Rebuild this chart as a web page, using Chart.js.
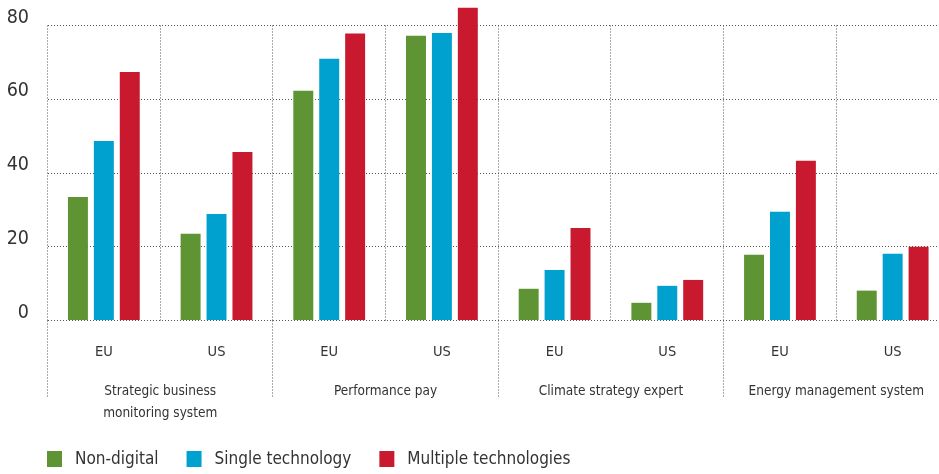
<!DOCTYPE html>
<html>
<head>
<meta charset="utf-8">
<title>Management practices by digital adoption</title>
<script src="https://cdn.jsdelivr.net/npm/chart.js@4.4.1/dist/chart.umd.min.js"></script>
<style>
  html, body { margin: 0; padding: 0; background: #fff; overflow: hidden; }
  #chart { display: block; }
</style>
</head>
<body>
<canvas id="chart" width="949" height="474"></canvas>
<script>
const regions = ['EU', 'US', 'EU', 'US', 'EU', 'US', 'EU', 'US'];
const practices = [
  ['Strategic business', 'monitoring system'],
  ['Performance pay'],
  ['Climate strategy expert'],
  ['Energy management system']
];
const seriesNames = ['Non-digital', 'Single technology', 'Multiple technologies'];
const nonDigital = [33.5, 23.5, 62.3, 77.2, 8.6, 4.8, 17.8, 8.1];
const singleTech = [48.7, 28.9, 71.0, 78.0, 13.7, 9.4, 29.5, 18.1];
const multipleTech = [67.4, 45.7, 77.8, 84.8, 25.1, 11.0, 43.3, 20.0];
const yTicks = [0, 20, 40, 60, 80];

const FONT = "'Liberation Sans Narrow', 'DejaVu Sans Condensed', 'Roboto Condensed', sans-serif";
const TEXT = '#333';
const GRID = '#555';
const colors = ['#5e9433', '#00a0cf', '#c8192e'];

// practice captions, the separators running down to them, and the legend row
const practiceLabels = {
  id: 'practiceLabels',
  afterDraw(chart) {
    const {ctx, chartArea, scales: {x}} = chart;
    const half = (x.getPixelForValue(1) - x.getPixelForValue(0)) / 2;
    ctx.save();
    ctx.strokeStyle = GRID;
    ctx.lineWidth = 1;
    ctx.setLineDash([1, 2]);
    practices.forEach((lines, g) => {
      const left = Math.round(x.getPixelForValue(2 * g) - half - 0.5) + 0.5;
      ctx.beginPath();
      ctx.moveTo(left, chartArea.bottom);
      ctx.lineTo(left, chartArea.bottom + 77);
      ctx.stroke();
    });
    ctx.setLineDash([]);

    ctx.fillStyle = TEXT;
    ctx.font = `13.5px ${FONT}`;
    ctx.textAlign = 'center';
    ctx.textBaseline = 'middle';
    practices.forEach((lines, g) => {
      const cx = (x.getPixelForValue(2 * g) + x.getPixelForValue(2 * g + 1)) / 2;
      lines.forEach((t, i) => ctx.fillText(t, cx, chartArea.bottom + 71 + i * 22));
    });

    ctx.font = `17px ${FONT}`;
    ctx.textAlign = 'left';
    let lx = 47;
    const ly = 451;
    chart.data.datasets.forEach(ds => {
      ctx.fillStyle = ds.backgroundColor;
      ctx.fillRect(lx, ly, 15, 16);
      ctx.fillStyle = TEXT;
      ctx.fillText(ds.label, lx + 28, ly + 8.5);
      lx += 28 + ctx.measureText(ds.label).width + 28;
    });
    ctx.restore();
  }
};

const datasets = [nonDigital, singleTech, multipleTech].map((values, i) => ({
  label: seriesNames[i],
  data: values,
  backgroundColor: colors[i],
  borderWidth: 0,
  categoryPercentage: 0.69,
  barPercentage: 0.77,
  clip: false
}));

new Chart(document.getElementById('chart'), {
  type: 'bar',
  data: {
    labels: regions,
    datasets: datasets
  },
  options: {
    responsive: false,
    animation: false,
    layout: {
      padding: { top: 25.5, left: 0, right: 0, bottom: 0 }
    },
    plugins: {
      legend: { display: false },
      tooltip: { enabled: false }
    },
    scales: {
      x: {
        grid: { color: GRID, drawTicks: false },
        border: { display: false, dash: [1, 2] },
        ticks: {
          color: TEXT,
          font: { family: FONT, size: 14.5 },
          padding: 23,
          maxRotation: 0,
          autoSkip: false
        },
        afterFit: (scale) => { scale.height = 153.5; }
      },
      y: {
        min: 0,
        max: 80,
        afterBuildTicks: (scale) => { scale.ticks = yTicks.map(v => ({ value: v })); },
        grid: { color: GRID, drawTicks: false },
        border: { display: false, dash: [1, 2] },
        ticks: {
          color: TEXT,
          font: { family: FONT, size: 19.5 },
          padding: 18.5,
          labelOffset: -8
        },
        afterFit: (scale) => {
          scale.width = 47.5;
          scale.paddingTop = 0;
          scale.paddingBottom = 0;
        }
      }
    }
  },
  plugins: [practiceLabels]
});
</script>
</body>
</html>
